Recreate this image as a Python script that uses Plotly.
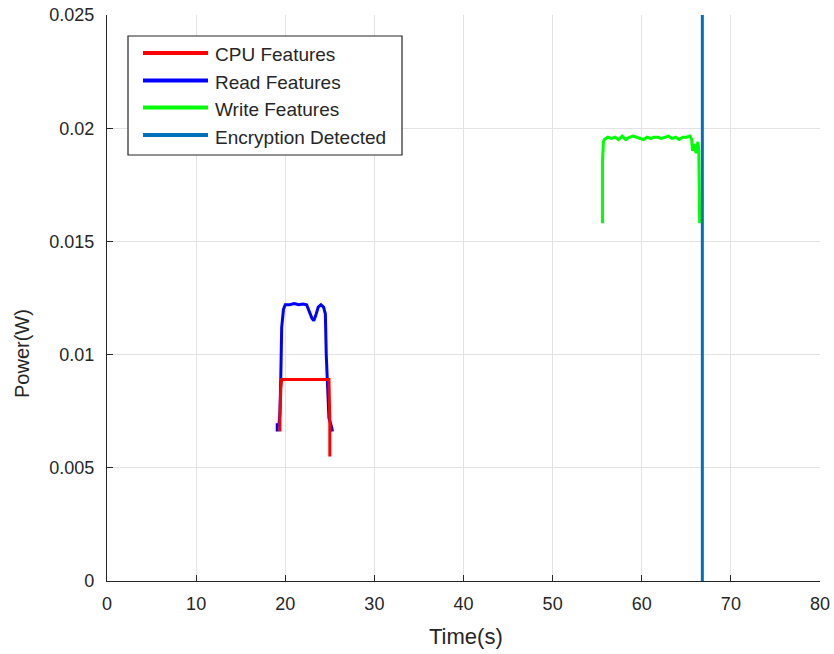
import plotly.graph_objects as go

# ---- data ----
cpu_t = [19.4, 19.4, 19.5, 19.6, 20.5, 22.0, 23.5, 24.9, 25.0, 25.0]
cpu_p = [0.0066, 0.0072, 0.0085, 0.0089, 0.0089, 0.0089, 0.0089, 0.0089, 0.0070, 0.0055]

read_t = [19.1, 19.1, 19.3, 19.4, 19.5, 19.6, 19.8, 20.0, 20.5, 21.0, 21.5, 22.0, 22.4,
          22.7, 23.0, 23.2, 23.4, 23.7, 24.0, 24.3, 24.5, 24.6, 24.7, 24.9, 25.2, 25.3]
read_p = [0.0066, 0.0069, 0.0069, 0.0074, 0.0090, 0.0112, 0.0120, 0.0122, 0.0122, 0.01225,
          0.0122, 0.01223, 0.0122, 0.0119, 0.0116, 0.0115, 0.0117, 0.0121, 0.0122, 0.0121,
          0.0118, 0.0100, 0.0088, 0.0072, 0.0068, 0.0066]

write_t = [55.6, 55.6, 55.7, 55.8, 56.2, 56.6, 57.0, 57.4, 57.8, 58.2, 58.6, 59.0, 59.4,
           59.8, 60.2, 60.6, 61.0, 61.4, 61.8, 62.2, 62.6, 63.0, 63.4, 63.8, 64.2, 64.6,
           65.0, 65.4, 65.6, 65.7, 65.9, 66.1, 66.3, 66.4, 66.5]
write_p = [0.0158, 0.0186, 0.0194, 0.0195, 0.0196, 0.01955, 0.0196, 0.01950, 0.01965, 0.0195,
           0.0196, 0.01965, 0.0196, 0.01955, 0.0195, 0.0196, 0.01955, 0.0196, 0.0196, 0.01955,
           0.0196, 0.01965, 0.01955, 0.0196, 0.0195, 0.0196, 0.0196, 0.01965, 0.0195, 0.0190,
           0.0193, 0.0189, 0.0194, 0.0190, 0.0158]

detect_t = [66.8, 66.8]
detect_p = [0.0, 0.025]

x_ticks = [0, 10, 20, 30, 40, 50, 60, 70, 80]
y_ticks = [0, 0.005, 0.01, 0.015, 0.02, 0.025]
y_tick_text = ["0", "0.005", "0.01", "0.015", "0.02", "0.025"]

series = [
    ("CPU Features", cpu_t, cpu_p, "#ff0000"),
    ("Read Features", read_t, read_p, "#0000ff"),
    ("Write Features", write_t, write_p, "#00ff00"),
    ("Encryption Detected", detect_t, detect_p, "#0072bd"),
]
# CPU trace sits on top of the read trace
draw_order = [1, 0, 2, 3]

FONT = "Liberation Sans, Arial, sans-serif"
INK = "#262626"

fig = go.Figure()
for i in draw_order:
    name, t, p, col = series[i]
    fig.add_trace(go.Scatter(x=t, y=p, mode="lines", name=name,
                             line=dict(color=col, width=3), showlegend=False))

# ---- boxed legend (paper coordinates) ----
W, H = 834, 654
L, R, T, B = 107, 14, 15, 73
pw, ph = W - L - R, H - T - B

def px(x):
    return (x - L) / pw

def py(y):
    return (H - B - y) / ph

shapes = [dict(type="rect", xref="paper", yref="paper",
               x0=px(128), x1=px(402), y0=py(155), y1=py(36),
               line=dict(color=INK, width=1.2), fillcolor="white", layer="above")]
annotations = []
row_y = [53, 80.5, 107.5, 135]
for (name, _, _, col), ry in zip(series, row_y):
    shapes.append(dict(type="line", xref="paper", yref="paper",
                       x0=px(143), x1=px(208), y0=py(ry), y1=py(ry),
                       line=dict(color=col, width=4), layer="above"))
    annotations.append(dict(xref="paper", yref="paper", x=px(213), y=py(ry + 2),
                            text=name, showarrow=False, xanchor="left", yanchor="middle",
                            font=dict(family=FONT, size=19, color=INK)))

# axis titles
annotations.append(dict(xref="paper", yref="paper", x=px(466), y=py(636),
                        text="Time(s)", showarrow=False, xanchor="center", yanchor="middle",
                        font=dict(family=FONT, size=22, color=INK)))
annotations.append(dict(xref="paper", yref="paper", x=px(22), y=py(354),
                        text="Power(W)", showarrow=False, xanchor="center", yanchor="middle",
                        textangle=-90, font=dict(family=FONT, size=20, color=INK)))

fig.update_layout(
    width=W, height=H,
    margin=dict(l=L, r=R, t=T, b=B, autoexpand=False),
    paper_bgcolor="white", plot_bgcolor="white",
    font=dict(family=FONT, color=INK),
    shapes=shapes, annotations=annotations,
    xaxis=dict(range=[0, 80], tickvals=x_ticks, ticks="inside", ticklen=6,
               tickcolor=INK, showline=True, linecolor=INK, linewidth=1.2,
               showgrid=True, gridcolor="#e3e3e3", gridwidth=1, zeroline=False,
               automargin=False,
               tickfont=dict(family=FONT, size=18, color=INK), ticklabelstandoff=6),
    yaxis=dict(range=[0, 0.025], tickvals=y_ticks, ticktext=y_tick_text, ticks="inside",
               ticklen=6, tickcolor=INK, showline=True, linecolor=INK, linewidth=1.2,
               showgrid=True, gridcolor="#e3e3e3", gridwidth=1, zeroline=False,
               automargin=False,
               tickfont=dict(family=FONT, size=18, color=INK), ticklabelstandoff=8),
)

fig.write_html("out.html")
